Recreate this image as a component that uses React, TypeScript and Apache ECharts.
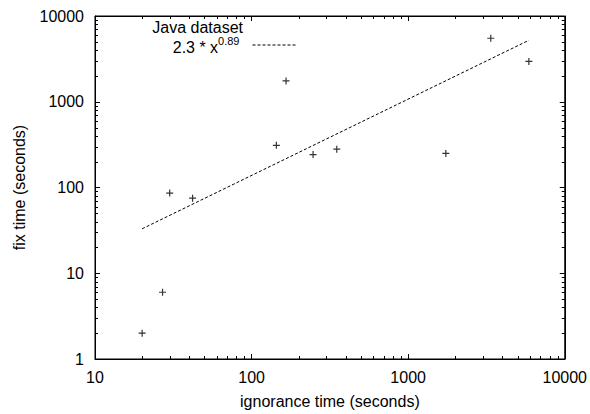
import React, { useEffect, useRef } from "react";
import * as echarts from "echarts";

const ignoranceTime = [20, 27, 30, 42, 144, 166, 247, 350, 1740, 3370, 5900];
const fixTime = [2, 6, 86, 75, 310, 1750, 242, 280, 250, 5500, 2950];
const fitLineX = [20, 5900];
const fitLineY = [33, 5210];
const xTicks = [10, 100, 1000, 10000];
const yTicks = [1, 10, 100, 1000, 10000];
const xMinorTicks = [20, 30, 40, 50, 60, 70, 80, 90, 200, 300, 400, 500, 600, 700, 800, 900, 2000, 3000, 4000, 5000, 6000, 7000, 8000, 9000];
const yMinorTicks = [2, 3, 4, 5, 6, 7, 8, 9, 20, 30, 40, 50, 60, 70, 80, 90, 200, 300, 400, 500, 600, 700, 800, 900, 2000, 3000, 4000, 5000, 6000, 7000, 8000, 9000];

const FONT = "'Liberation Sans', Arial, Helvetica, sans-serif";
const FS = 16;
const X_MIN = xTicks[0];
const X_MAX = xTicks[xTicks.length - 1];
const Y_MIN = yTicks[0];
const Y_MAX = yTicks[yTicks.length - 1];

export default function App() {
  const ref = useRef<HTMLDivElement>(null);
  useEffect(() => {
    if (!ref.current) return;
    const chart = echarts.init(ref.current, undefined, { renderer: "svg" });
    const tickStyle = { stroke: "#000", lineWidth: 1 };
    const axisCommon = {
      type: "log",
      logBase: 10,
      axisLine: { show: true, lineStyle: { color: "#000", width: 1 } },
      axisTick: { show: true, inside: true, length: 5, lineStyle: { color: "#000", width: 1 } },
      splitLine: { show: false },
      minorTick: { show: false },
    };
    const fmt = (v: number) => String(Math.round(v));
    chart.setOption({
      animation: false,
      backgroundColor: "#fff",
      title: {
        text: "Java dataset",
        right: 347,
        top: 22,
        padding: 0,
        textStyle: { fontSize: FS, lineHeight: 10, fontWeight: "normal", color: "#000", fontFamily: FONT },
      },
      legend: {
        data: [{ name: "fit" }],
        right: 293,
        top: 35,
        padding: 0,
        align: "right",
        itemWidth: 44,
        itemHeight: 10,
        itemStyle: { opacity: 0 },
        lineStyle: { color: "#000", width: 1, type: [3, 2] },
        formatter: () => "{a|2.3 * x}{b|0.89}",
        textStyle: {
          color: "#000",
          fontFamily: FONT,
          rich: {
            a: { fontSize: FS, lineHeight: 20, verticalAlign: "bottom", fontFamily: FONT, color: "#000" },
            b: { fontSize: 11, lineHeight: 14, verticalAlign: "top", fontFamily: FONT, color: "#000", padding: [0, 8, 0, 0] },
          },
        },
      },
      grid: { left: 95, right: 25, top: 16, bottom: 53, show: true, borderColor: "#000", borderWidth: 1, backgroundColor: "transparent" },
      xAxis: [
        {
          ...axisCommon,
          min: X_MIN,
          max: X_MAX,
          position: "bottom",
          name: "ignorance time (seconds)",
          nameLocation: "middle",
          nameGap: 34,
          nameTextStyle: { fontSize: FS, color: "#000", fontFamily: FONT },
          axisLabel: { show: true, margin: 10, fontSize: FS, color: "#000", fontFamily: FONT, formatter: fmt },
        },
        {
          ...axisCommon,
          min: X_MIN,
          max: X_MAX,
          position: "top",
          axisLabel: { show: false },
        },
      ],
      yAxis: [
        {
          ...axisCommon,
          min: Y_MIN,
          max: Y_MAX,
          position: "left",
          name: "fix time (seconds)",
          nameLocation: "middle",
          nameGap: 68,
          nameTextStyle: { fontSize: FS, color: "#000", fontFamily: FONT },
          axisLabel: { show: true, margin: 11, fontSize: FS, color: "#000", fontFamily: FONT, formatter: fmt },
        },
        {
          ...axisCommon,
          min: Y_MIN,
          max: Y_MAX,
          position: "right",
          axisLabel: { show: false },
        },
      ],
      series: [
        {
          type: "scatter",
          name: "Java dataset",
          data: ignoranceTime.map((x, i) => [x, fixTime[i]]),
          symbol: "path://M0,5L10,5M5,0L5,10",
          symbolSize: 7,
          itemStyle: { color: "none", borderColor: "#000", borderWidth: 1.2 },
          xAxisIndex: 0,
          yAxisIndex: 0,
        },
        {
          type: "line",
          name: "fit",
          data: fitLineX.map((x, i) => [x, fitLineY[i]]),
          symbol: "none",
          showSymbol: false,
          lineStyle: { color: "#000", width: 1, type: [3, 2] },
          itemStyle: { color: "#000" },
          xAxisIndex: 0,
          yAxisIndex: 0,
        },
        {
          type: "custom",
          name: "xMinor",
          xAxisIndex: 0,
          yAxisIndex: 0,
          silent: true,
          clip: false,
          data: xMinorTicks.map((v) => [v, Y_MIN]),
          encode: { x: 0, y: 1 },
          renderItem: (_p: any, api: any) => {
            const v = api.value(0);
            const b = api.coord([v, Y_MIN]);
            const t = api.coord([v, Y_MAX]);
            const x = Math.round(b[0]) + 0.5;
            return {
              type: "group",
              children: [
                { type: "line", shape: { x1: x, y1: b[1], x2: x, y2: b[1] - 3 }, style: tickStyle },
                { type: "line", shape: { x1: x, y1: t[1], x2: x, y2: t[1] + 3 }, style: tickStyle },
              ],
            };
          },
        },
        {
          type: "custom",
          name: "yMinor",
          xAxisIndex: 0,
          yAxisIndex: 0,
          silent: true,
          clip: false,
          data: yMinorTicks.map((v) => [X_MIN, v]),
          encode: { x: 0, y: 1 },
          renderItem: (_p: any, api: any) => {
            const v = api.value(1);
            const l = api.coord([X_MIN, v]);
            const r = api.coord([X_MAX, v]);
            const y = Math.round(l[1]) + 0.5;
            return {
              type: "group",
              children: [
                { type: "line", shape: { x1: l[0], y1: y, x2: l[0] + 3, y2: y }, style: tickStyle },
                { type: "line", shape: { x1: r[0], y1: y, x2: r[0] - 3, y2: y }, style: tickStyle },
              ],
            };
          },
        },
      ],
    });
    return () => chart.dispose();
  }, []);
  return <div ref={ref} style={{ position: "fixed", left: 0, top: 0, width: 590, height: 414 }} />;
}
